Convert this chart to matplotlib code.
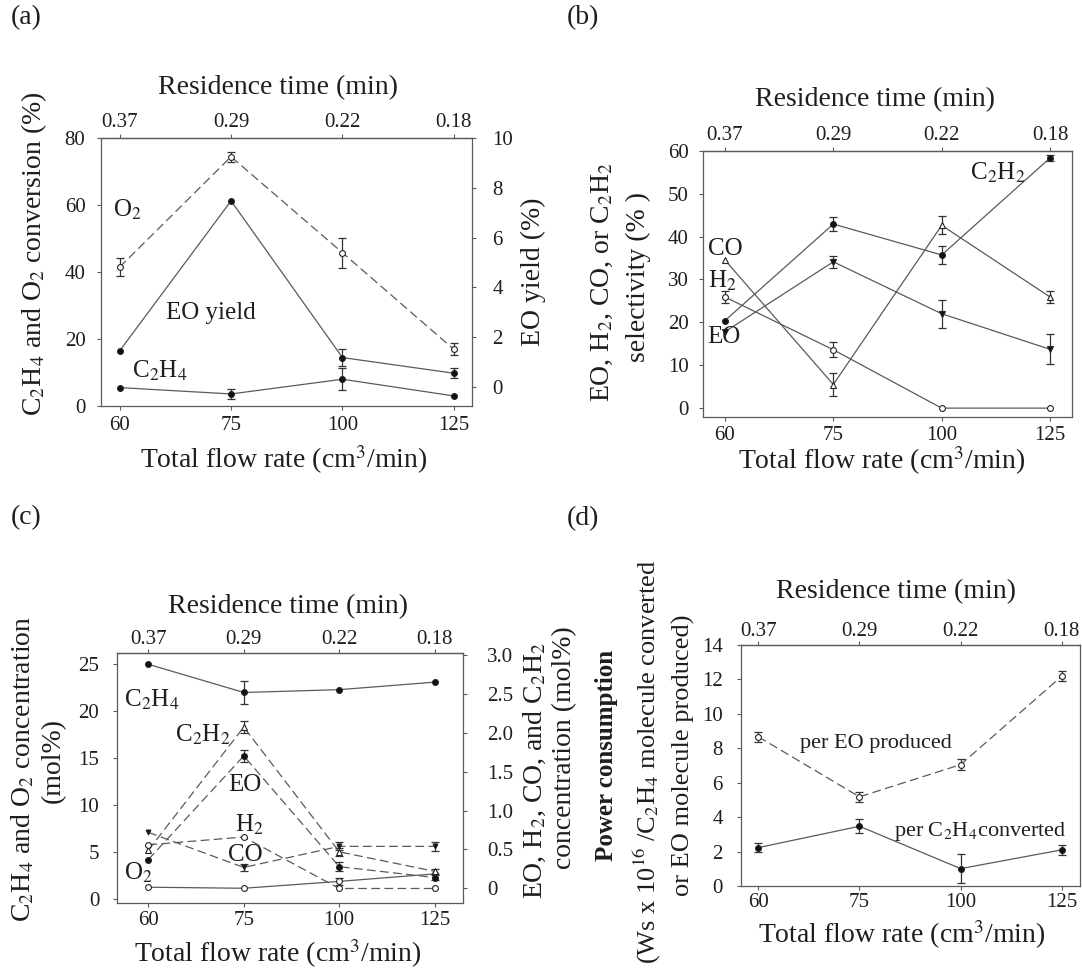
import numpy as np
import matplotlib
matplotlib.use('Agg')
import matplotlib.pyplot as plt

plt.rcParams['font.family'] = ['Liberation Serif', 'DejaVu Serif']
plt.rcParams['mathtext.fontset'] = 'stix'

W, H = 1082, 971

flow = ['60', '75', '100', '125']
res_time = ['0.37', '0.29', '0.22', '0.18']
x = np.arange(len(flow))

# (a) conversion (%) left, EO yield (%) right
a_o2 = [41.5, 74.5, 45.8, 16.9]
a_o2_err = [2.7, 1.5, 4.5, 1.8]
a_c2h4 = [5.5, 3.6, 8.0, 3.0]
a_c2h4_err = [0, 1.5, 3.3, 0]
a_eo_yield = [1.44, 7.48, 1.17, 0.54]
a_eo_yield_err = [0, 0, 0.35, 0.2]

# (b) selectivity (%)
b_c2h2 = [20.4, 42.9, 35.7, 58.3]
b_c2h2_err = [0, 1.6, 2.1, 0.8]
b_eo = [17.8, 34.1, 22.0, 13.7]
b_eo_err = [0, 1.4, 3.3, 3.5]
b_co = [34.5, 5.5, 42.6, 25.9]
b_co_err = [0, 2.7, 2.1, 1.4]
b_h2 = [25.9, 13.6, 0.0, 0.0]
b_h2_err = [1.3, 1.8, 0, 0]

# (c) concentration (mol%): C2H4, O2 left; others right
c_c2h4 = [25.0, 22.0, 22.3, 23.1]
c_c2h4_err = [0, 1.2, 0, 0]
c_o2 = [1.28, 1.17, 1.9, 2.7]
c_o2_err = [0, 0, 0.4, 0]
c_c2h2 = [0.49, 2.07, 0.47, 0.22]
c_c2h2_err = [0, 0.08, 0.05, 0.03]
c_eo = [0.37, 1.70, 0.28, 0.14]
c_eo_err = [0, 0.08, 0.06, 0.03]
c_h2 = [0.56, 0.66, 0.0, 0.0]
c_h2_err = [0, 0, 0, 0]
c_co = [0.72, 0.27, 0.54, 0.54]
c_co_err = [0, 0.04, 0.05, 0.06]

# (d) power consumption
d_eo = [8.67, 5.18, 7.05, 12.19]
d_eo_err = [0.3, 0.3, 0.3, 0.3]
d_c2h4 = [2.23, 3.47, 1.01, 2.1]
d_c2h4_err = [0.25, 0.4, 0.85, 0.3]

LC = '#5a5a5a'
TC = '#1e1e1e'
FS = 20
TS = 15

fig = plt.figure(figsize=(W / 100, H / 100), dpi=100)


def box(l, t, r, b):
    return fig.add_axes([l / W, 1 - b / H, (r - l) / W, (b - t) / H])


def ftext(px, py, s, size=FS, **kw):
    fig.text(px / W, 1 - py / H, s, ha='center', va='center', fontsize=size,
             color=TC, **kw)


def style(ax, xlim, ylim, yticks, lpad, bpad, tpad, ylabels=None):
    ax.set_xlim(xlim)
    ax.set_ylim(ylim)
    ax.set_xticks(x, flow)
    if ylabels is None:
        ax.set_yticks(yticks)
    else:
        ax.set_yticks(yticks, ylabels)
    ax.tick_params(direction='out', length=3, width=0.8, color=LC,
                   labelsize=TS, labelcolor=TC)
    ax.tick_params(axis='y', pad=lpad)
    ax.tick_params(axis='x', pad=bpad)
    for s in ax.spines.values():
        s.set_color(LC)
        s.set_linewidth(0.9)
    top = ax.secondary_xaxis('top')
    top.set_xticks(x, res_time)
    top.tick_params(direction='out', length=3, width=0.8, color=LC,
                    labelsize=TS, labelcolor=TC, pad=tpad)
    top.spines['top'].set_color(LC)
    top.spines['top'].set_linewidth(0.9)


def series(ax, y, err, filled, dashed, marker='o', ms=4.2):
    if dashed:
        ax.plot(x, y, color=LC, lw=0.9, dashes=(7, 3.5), zorder=2)
    else:
        ax.plot(x, y, color=LC, lw=0.9, zorder=2)
    idx = [i for i, e in enumerate(err) if e > 0]
    if idx:
        ax.errorbar(x[idx], np.array(y)[idx], yerr=np.array(err)[idx],
                    fmt='none', ecolor='#333', elinewidth=0.9, capsize=3,
                    capthick=0.9, zorder=3)
    ax.plot(x, y, ls='none', marker=marker, ms=ms,
            mfc='#111' if filled else 'white', mec='#222', mew=0.8, zorder=4)


# ---------------- (a)
ax = box(100.7, 138.3, 471.7, 406)
style(ax, (-0.17, 3.16), (0, 80), range(0, 81, 20), 8, 4.5, 1.6)
axr = ax.twinx()
axr.set_ylim(-0.78, 10)
axr.set_yticks(range(0, 11, 2))
axr.tick_params(direction='out', length=3, width=0.8, color=LC,
                labelsize=TS, labelcolor=TC, pad=12)
for s in axr.spines.values():
    s.set_visible(False)
series(ax, a_o2, a_o2_err, False, True)
series(ax, a_c2h4, a_c2h4_err, True, False)
series(axr, a_eo_yield, a_eo_yield_err, True, False)
ax.text(-0.06, 58.5, 'O$_2$', fontsize=18, va='center', color=TC)
ax.text(0.42, 27.9, 'EO yield', fontsize=18, va='center', color=TC)
ax.text(0.11, 10.5, 'C$_2$H$_4$', fontsize=18, va='center', color=TC)

ftext(26, 18, '(a)')
ftext(278, 88, 'Residence time (min)')
ftext(284, 460, 'Total flow rate (cm$^3$/min)')
ftext(34, 254, 'C$_2$H$_4$ and O$_2$ conversion (%)', rotation=90)
ftext(533, 272, 'EO yield (%)', rotation=90)

# ---------------- (b)
ax = box(703.3, 150.7, 1071.7, 416.7)
style(ax, (-0.2, 3.2), (-2, 60), range(0, 61, 10), 7.5, 3.8, 1)
series(ax, b_c2h2, b_c2h2_err, True, False)
series(ax, b_eo, b_eo_err, True, False, marker='v')
series(ax, b_co, b_co_err, False, False, marker='^')
series(ax, b_h2, b_h2_err, False, False)
ax.text(2.26, 54.9, 'C$_2$H$_2$', fontsize=18, va='center', color=TC)
ax.text(-0.16, 37.2, 'CO', fontsize=18, va='center', color=TC)
ax.text(-0.16, 29.6, 'H$_2$', fontsize=18, va='center', color=TC)
ax.text(-0.16, 16.5, 'EO', fontsize=18, va='center', color=TC)

ftext(583, 18, '(b)')
ftext(875, 100, 'Residence time (min)')
ftext(882, 461, 'Total flow rate (cm$^3$/min)')
ftext(602, 282, 'EO, H$_2$, CO, or C$_2$H$_2$', rotation=90)
ftext(638, 277, 'selectivity (% )', rotation=90)

# ---------------- (c)
ax = box(117.3, 653, 463.3, 903.3)
style(ax, (-0.325, 3.3), (-0.43, 26.2), range(0, 26, 5), 10, 2.4, 0)
axr = ax.twinx()
axr.set_ylim(-0.19, 3.02)
axr.set_yticks([0, 0.5, 1.0, 1.5, 2.0, 2.5, 3.0],
               ['0', '0.5', '1.0', '1.5', '2.0', '2.5', '3.0'])
axr.tick_params(direction='out', length=3, width=0.8, color=LC,
                labelsize=TS, labelcolor=TC, pad=14)
for s in axr.spines.values():
    s.set_visible(False)
series(ax, c_c2h4, c_c2h4_err, True, False)
series(ax, c_o2, c_o2_err, False, False)
series(axr, c_c2h2, c_c2h2_err, False, True, marker='^')
series(axr, c_eo, c_eo_err, True, True)
series(axr, c_h2, c_h2_err, False, True)
series(axr, c_co, c_co_err, True, True, marker='v', ms=3.5)
ax.text(-0.26, 21.2, 'C$_2$H$_4$', fontsize=18, va='center', color=TC)
ax.text(0.28, 17.5, 'C$_2$H$_2$', fontsize=18, va='center', color=TC)
ax.text(0.84, 12.2, 'EO', fontsize=18, va='center', color=TC)
ax.text(0.91, 7.9, 'H$_2$', fontsize=18, va='center', color=TC)
ax.text(0.84, 4.7, 'CO', fontsize=18, va='center', color=TC)
ax.text(-0.26, 2.8, 'O$_2$', fontsize=18, va='center', color=TC)

ftext(26, 518, '(c)')
ftext(288, 607, 'Residence time (min)')
ftext(278, 954, 'Total flow rate (cm$^3$/min)')
ftext(23, 769, 'C$_2$H$_4$ and O$_2$ concentration', rotation=90)
ftext(53, 760, '(mol%)', rotation=90)
ftext(535, 770, 'EO, H$_2$, CO, and C$_2$H$_2$', rotation=90)
ftext(565, 748, 'concentration (mol%)', rotation=90)

# ---------------- (d)
ax = box(740.7, 645, 1080, 886)
style(ax, (-0.174, 3.18), (0, 14), range(0, 15, 2), 10, 1.7, 0)
series(ax, d_eo, d_eo_err, False, True)
series(ax, d_c2h4, d_c2h4_err, True, False)
ax.text(0.41, 8.3, 'per EO produced', fontsize=16, va='center', color=TC)
ax.text(1.34, 3.14, 'per C$_2$H$_4$converted', fontsize=16, va='center',
        color=TC)

ftext(583, 519, '(d)')
ftext(896, 592, 'Residence time (min)')
ftext(902, 935, 'Total flow rate (cm$^3$/min)')
ftext(607, 755, 'Power consumption', size=18, rotation=90, weight='bold')
ftext(647, 762, '(Ws x 10$^{16}$ /C$_2$H$_4$ molecule converted', size=19,
      rotation=90)
ftext(683, 755, 'or EO molecule produced)', size=19, rotation=90)

fig.savefig('out.png', dpi=100, facecolor='white')
